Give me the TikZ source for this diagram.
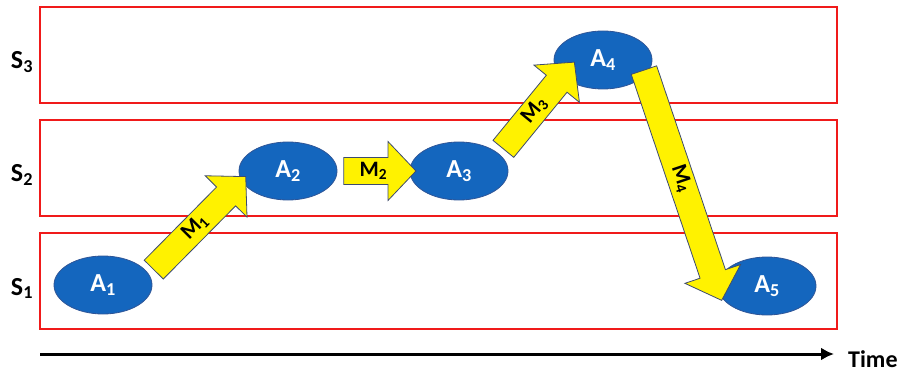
\documentclass[tikz,border=0pt]{standalone}
\usepackage{fontspec}
\setmainfont{Carlito}
\usetikzlibrary{shapes.geometric,shapes.arrows,calc,arrows.meta}
\definecolor{stagered}{HTML}{F01A1A}
\definecolor{actblue}{HTML}{1466BE}
\definecolor{actborder}{HTML}{2E5597}
\definecolor{msgborder}{HTML}{3D4B6E}
\tikzset{
	stage/.style={draw=stagered, line width=1.6pt},
	stagelabel/.style={anchor=base, font=\fontsize{26}{26}\selectfont\bfseries},
	act/.style={ellipse, draw=actborder, fill=actblue, line width=0.8pt, minimum width=98pt, minimum height=58pt, inner sep=0pt, text=white, font=\fontsize{26}{26}\selectfont\bfseries},
	msg/.style={single arrow, draw=msgborder, fill=yellow, line width=0.8pt, single arrow tip angle=93, single arrow head extend=16pt, text height=15pt, text depth=5pt, inner xsep=0pt, inner ysep=3pt, font=\fontsize{22}{22}\selectfont\bfseries},
}
\begin{document}
\begin{tikzpicture}[x=1pt,y=-1pt]
		\useasboundingbox (0,0) rectangle (901,374);
		\foreach \y/\s in {7/3, 120/2, 233/1}{
			\draw[stage] (40,\y) rectangle (837,\y+96);
			\node[stagelabel] (s\s) at (22,\y+62) {S\textsubscript{\s}};
		}
		
		\node[act] (a1) at (103,285) {A\textsubscript{1}};
		\node[act] (a2) at (288,171) {A\textsubscript{2}};
		\node[act] (a3) at (459,171) {A\textsubscript{3}};
		\node[act] (a4) at (603,60) {A\textsubscript{4}};
		\node[act] (a5) at (767,286) {A\textsubscript{5}};
		
		\coordinate (m3tip) at ($(a4.center)!0.7!(a4.192)$);
		\coordinate (m4tail) at ($(a4.center)!0.8!(a4.-6)$);
		\foreach \from/\to/\m in {a1.13/a2.192/1, a2.east/a3.west/2, a3.23/m3tip/3, m4tail/a5.190/4}{
			\path let \p1=(\from), \p2=(\to), \n1={atan2(\y2-\y1,\x2-\x1)}, \n2={veclen(\x2-\x1,\y2-\y1)} in
				node[msg, minimum height=\n2, rotate=\n1] (m\m) at ($(\p1)!0.5!(\p2)$) {M\textsubscript{\m}};
		}
		
		\coordinate (t0) at (40,354);
		\node[anchor=base west, inner xsep=14pt, font=\fontsize{24}{24}\selectfont\bfseries] (time) at (834,367) {Time};
		\draw[-{Latex[length=13pt,width=13pt]}, line width=3pt] (t0) -- (t0 -| time.west);
\end{tikzpicture}
\end{document}
